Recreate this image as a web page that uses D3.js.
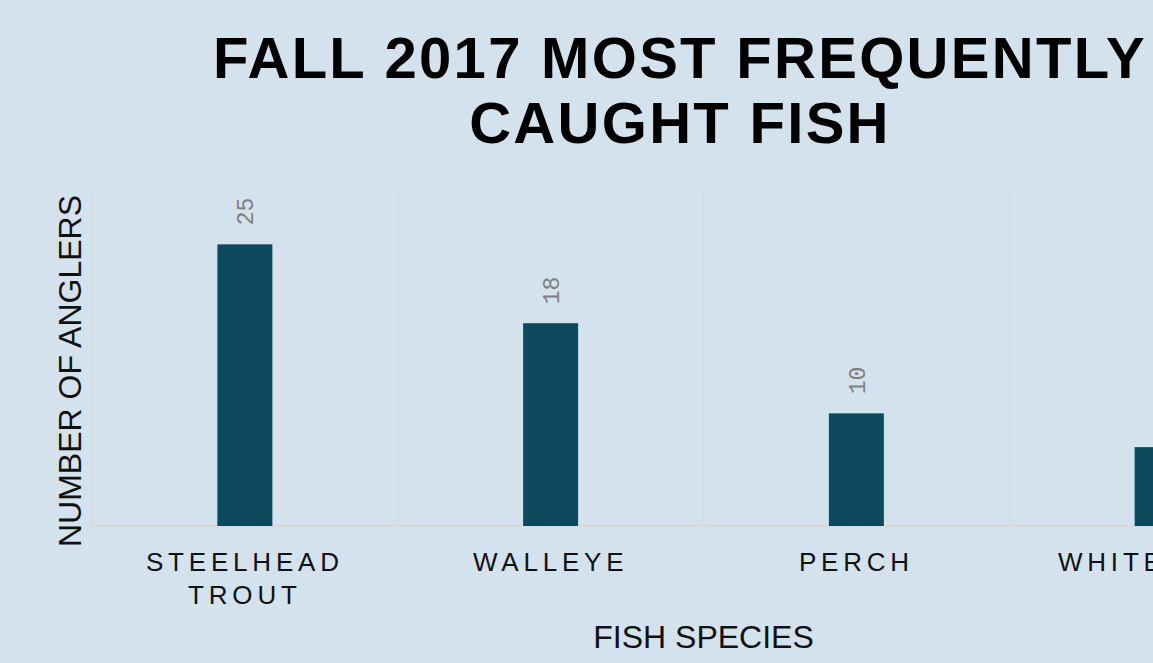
<!DOCTYPE html>
<html>
<head>
<meta charset="utf-8">
<script src="https://cdn.jsdelivr.net/npm/d3@7"></script>
<style>
  html, body { margin: 0; padding: 0; background: #d4e2ed; overflow: hidden; }
  svg { display: block; }
</style>
</head>
<body>
<svg id="chart" width="1153" height="663"></svg>
<script>
// Fall 2017 angler survey: most frequently caught species
const species = ["STEELHEAD TROUT", "WALLEYE", "PERCH", "WHITE BASS"];
const anglers = [25, 18, 10, 7];
const yTicks = [0, 30];

const svg = d3.select("#chart");
const margin = { left: 92, top: 188, bottom: 526, right: 1315 };

svg.append("rect")
  .attr("width", 1153).attr("height", 663)
  .attr("fill", "#d4e2ed");

const x = d3.scaleBand()
  .domain(species)
  .range([margin.left, margin.right])
  .paddingInner(0).paddingOuter(0);

const y = d3.scaleLinear()
  .domain(d3.extent(yTicks))
  .range([margin.bottom, margin.top]);

// band separators
const g = svg.append("g");
g.selectAll("line.sep")
  .data(species)
  .join("line")
  .attr("class", "sep")
  .attr("x1", d => x(d)).attr("x2", d => x(d))
  .attr("y1", margin.top).attr("y2", margin.bottom)
  .attr("stroke", "#d9d9d9").attr("stroke-width", 1.5);

// baseline
g.append("line")
  .attr("x1", margin.left).attr("x2", margin.right)
  .attr("y1", margin.bottom).attr("y2", margin.bottom)
  .attr("stroke", "#d9d9d9").attr("stroke-width", 2);

// bars
const barW = 55;
g.selectAll("rect.bar")
  .data(species)
  .join("rect")
  .attr("class", "bar")
  .attr("x", d => x(d) + x.bandwidth() / 2 - barW / 2)
  .attr("y", (d, i) => y(anglers[i]))
  .attr("width", barW)
  .attr("height", (d, i) => y(0) - y(anglers[i]))
  .attr("fill", "#0d4a5e");

// value labels, rotated
g.selectAll("text.val")
  .data(species)
  .join("text")
  .attr("class", "val")
  .attr("transform", (d, i) => {
    const cx = x(d) + x.bandwidth() / 2;
    const cy = y(anglers[i]) - 19;
    return `translate(${cx + 8.5},${cy}) rotate(-90)`;
  })
  .attr("font-family", "Liberation Mono, monospace")
  .attr("font-size", 23)
  .attr("fill", "#808080")
  .text((d, i) => anglers[i]);

// category labels with wrapping
const catSpacing = 4.8;
const xAxis = d3.axisBottom(x).tickSize(0).tickPadding(0);
const ax = svg.append("g")
  .attr("transform", `translate(0,${margin.bottom})`)
  .call(xAxis);
ax.select(".domain").remove();
ax.selectAll(".tick text").each(function(d) {
  const t = d3.select(this);
  t.text(null)
    .attr("font-family", "Liberation Sans, Arial, sans-serif")
    .attr("font-size", 26)
    .attr("letter-spacing", catSpacing + "px")
    .attr("fill", "#111")
    .attr("text-anchor", "middle")
    .attr("dy", null).attr("y", 0);
  const lines = d === "STEELHEAD TROUT" ? ["STEELHEAD", "TROUT"] : [d];
  lines.forEach((ln, k) => {
    t.append("tspan").attr("x", 0).attr("y", 45 + k * 33).text(ln);
  });
});

// axis titles
svg.append("text")
  .attr("x", (margin.left + margin.right) / 2)
  .attr("y", 648)
  .attr("text-anchor", "middle")
  .attr("font-family", "Liberation Sans, Arial, sans-serif")
  .attr("font-size", 32)
  .attr("fill", "#111")
  .text("FISH SPECIES");

svg.append("text")
  .attr("transform", "translate(81,371) rotate(-90)")
  .attr("text-anchor", "middle")
  .attr("font-family", "Liberation Sans, Arial, sans-serif")
  .attr("font-size", 32)
  .attr("fill", "#111")
  .text("NUMBER OF ANGLERS");

// chart title
const title = svg.append("text")
  .attr("text-anchor", "middle")
  .attr("font-family", "Liberation Sans, Arial, sans-serif")
  .attr("font-weight", "bold")
  .attr("font-size", 58)
  .attr("letter-spacing", "2.3px")
  .attr("fill", "#000");
title.append("tspan").attr("x", 680).attr("y", 78).text("FALL 2017 MOST FREQUENTLY");
title.append("tspan").attr("x", 680).attr("y", 143).text("CAUGHT FISH");
</script>
</body>
</html>
